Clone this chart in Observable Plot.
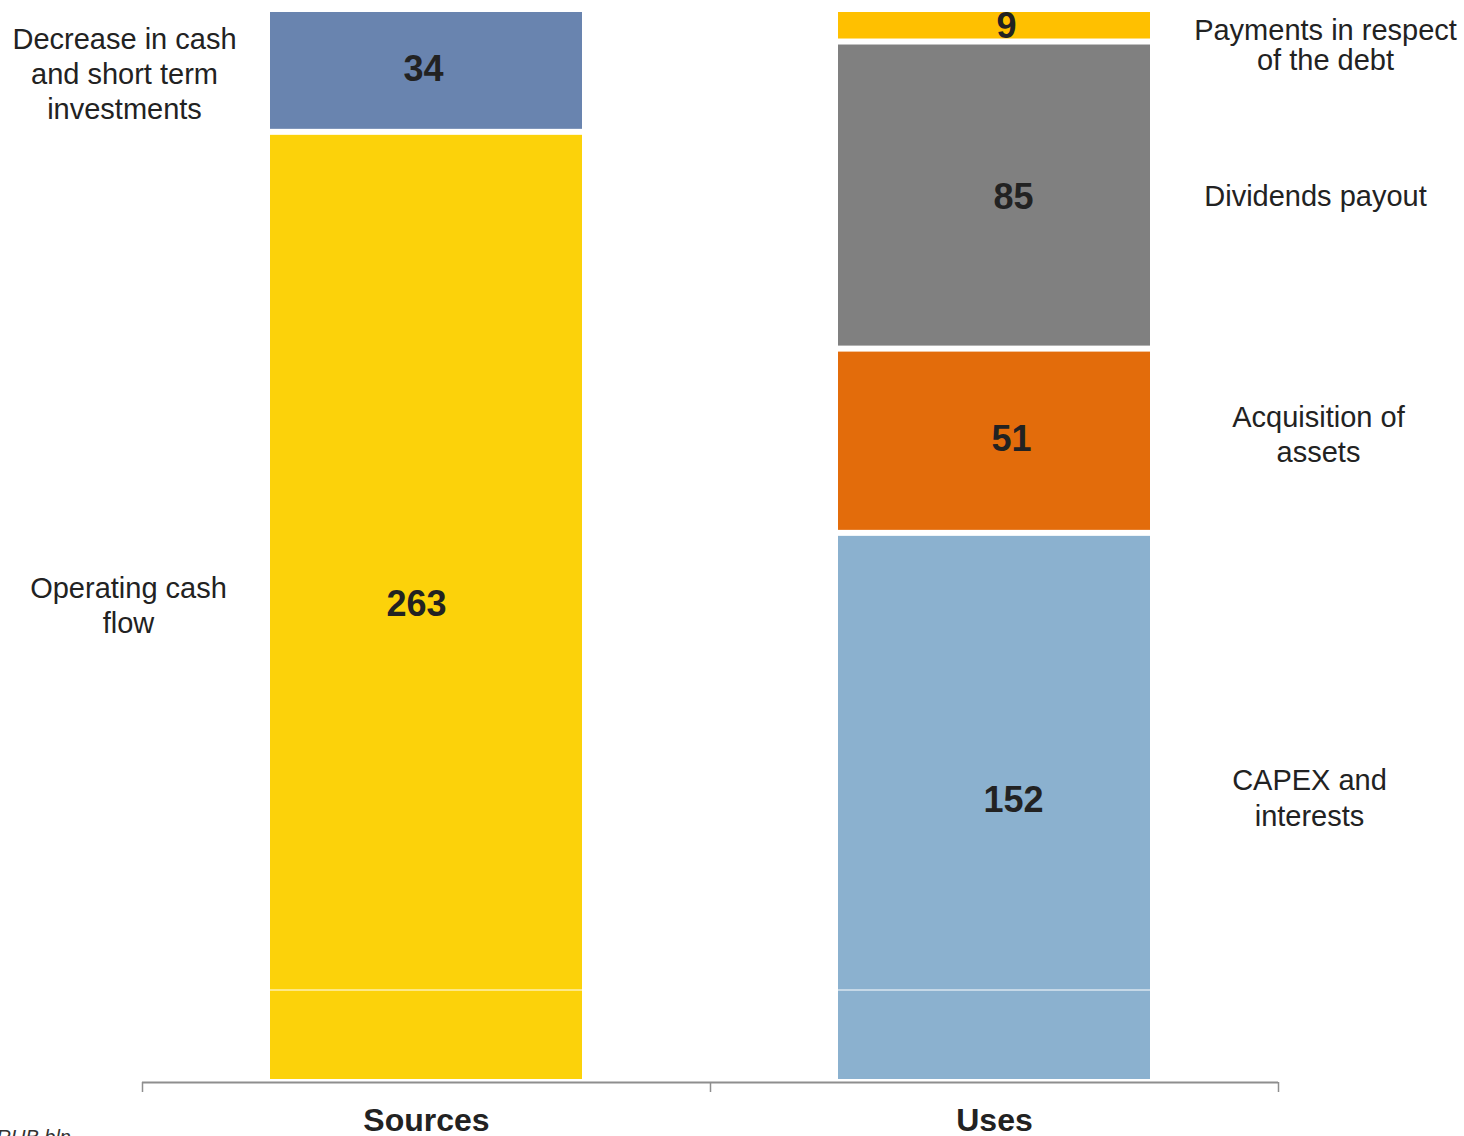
<!DOCTYPE html>
<html>
<head>
<meta charset="utf-8">
<script src="https://cdn.jsdelivr.net/npm/d3@7"></script>
<script src="https://cdn.jsdelivr.net/npm/@observablehq/plot@0.6"></script>
<style>
  html, body { margin: 0; padding: 0; background: #ffffff; overflow: hidden; }
  #chart svg { display: block; }
</style>
</head>
<body>
<div id="chart"></div>
<script>
// Sources and uses of funds, RUB bln
const sides = ["Sources", "Uses"];
const items = [
  "Operating cash flow",
  "Decrease in cash and short term investments",
  "CAPEX and interests",
  "Acquisition of assets",
  "Dividends payout",
  "Payments in respect of the debt"
];
const itemSides = ["Sources", "Sources", "Uses", "Uses", "Uses", "Uses"];
const itemValues = [263, 34, 152, 51, 85, 9];
const itemLabels = [
  "Operating cash\nflow",
  "Decrease in cash\nand short term\ninvestments",
  "CAPEX and\ninterests",
  "Acquisition of\nassets",
  "Dividends payout",
  "Payments in respect\nof the debt"
];
const itemColors = ["#FCD20A", "#6984AF", "#8BB1CF", "#E36C0B", "#808080", "#FFC000"];
const separatorLevels = [25.6];
const unitNote = "RUB bln";

// Stack each side bottom-up in list order
const running = new Map(sides.map(s => [s, 0]));
const rows = items.map((name, i) => {
  const side = itemSides[i];
  const start = running.get(side);
  const end = start + itemValues[i];
  running.set(side, end);
  return {name, side, value: itemValues[i], label: itemLabels[i], start, end, mid: (start + end) / 2};
});
const total = d3.max(sides, s => running.get(s));

const W = 1464, H = 1136;
const marginLeft = 142, marginRight = 186, marginTop = 9, marginBottom = 54;
const step = (W - marginLeft - marginRight) / sides.length;

const ink = "#222222";
const axisGrey = "#8e8e8e";

// fine placement of the in-bar values and of the side captions
const valueNudge = {
  "Operating cash flow": [-10, -3],
  "Decrease in cash and short term investments": [-3, -1],
  "CAPEX and interests": [19, -7],
  "Acquisition of assets": [17, -2],
  "Dividends payout": [19, 2],
  "Payments in respect of the debt": [12, 1]
};
const captionPlace = {
  "Operating cash flow": [-298, -3, 1.2],
  "Decrease in cash and short term investments": [-302, 2, 1.2],
  "CAPEX and interests": [315, -11, 1.24],
  "Acquisition of assets": [324, -8, 1.2],
  "Dividends payout": [321, -1, 1.2],
  "Payments in respect of the debt": [331, 20, 1.03]
};

const valueMarks = rows.map(r => Plot.text([r], {
  x: "side", y: "mid", text: d => String(d.value),
  dx: valueNudge[r.name][0], dy: valueNudge[r.name][1],
  fontSize: 36, fontWeight: "bold", fill: ink, textAnchor: "middle", lineAnchor: "middle"
}));

const captionMarks = rows.map(r => Plot.text([r], {
  x: "side", y: "mid", text: "label",
  dx: captionPlace[r.name][0], dy: captionPlace[r.name][1], lineHeight: captionPlace[r.name][2],
  fontSize: 29, fill: ink, textAnchor: "middle", lineAnchor: "middle"
}));

const chart = Plot.plot({
  width: W,
  height: H,
  marginLeft, marginRight, marginTop, marginBottom,
  style: {fontFamily: "'Liberation Sans', Arial, Helvetica, sans-serif", fontSize: "29px", background: "#ffffff", color: ink},
  x: {domain: sides, paddingInner: 0.45, paddingOuter: 0.225, label: null},
  y: {domain: [0, total], axis: null},
  color: {domain: items, range: itemColors},
  marks: [
    Plot.barY(rows, {x: "side", y1: "start", y2: "end", fill: "name", insetTop: 3, insetBottom: 3}),
    Plot.ruleY(separatorLevels, {stroke: "#ffffff", strokeWidth: 1}),
    Plot.ruleY([0], {stroke: axisGrey, strokeWidth: 2}),
    // tick marks sit on the band boundaries
    Plot.axisX({tickSize: 10, dx: -step / 2, fill: "none", stroke: axisGrey, strokeWidth: 1.5, label: null}),
    Plot.axisX(sides.slice(-1), {tickSize: 10, dx: step / 2, fill: "none", stroke: axisGrey, strokeWidth: 1.5, label: null}),
    Plot.axisX({tickSize: 0, tickPadding: 26, fontSize: 32, fontWeight: "bold", fill: ink, label: null}),
    ...valueMarks,
    ...captionMarks,
    Plot.text([unitNote], {
      text: d => d, frameAnchor: "bottom-left", dx: -146, dy: 61,
      textAnchor: "start", lineAnchor: "bottom", fontSize: 20, fontStyle: "italic", fill: "#333333"
    })
  ]
});

document.getElementById("chart").appendChild(chart);
</script>
</body>
</html>
